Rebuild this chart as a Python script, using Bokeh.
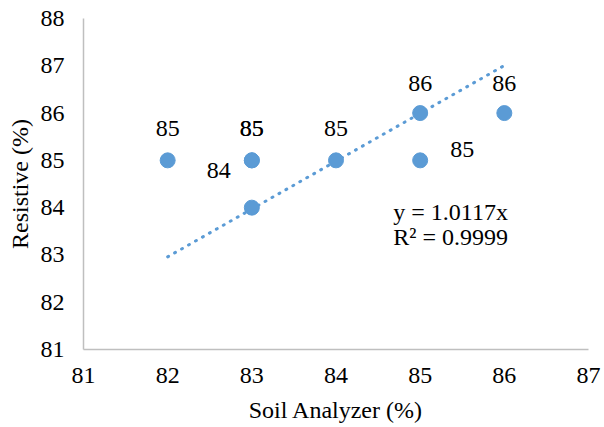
from bokeh.plotting import figure
from bokeh.models import Range1d, Label, FixedTicker
from bokeh.embed import file_html
from bokeh.resources import INLINE

# Data
soil_analyzer = [82, 83, 83, 83, 84, 85, 85, 86]
resistive = [85, 85, 85, 84, 85, 86, 85, 86]
trend_slope = 1.0117
r_squared = 0.9999
x_ticks = [81, 82, 83, 84, 85, 86, 87]
y_ticks = [81, 82, 83, 84, 85, 86, 87, 88]

# label placement offsets (screen px) per point
label_dx = [0, 0, 0, -33, 0, 0, 42, 0]
label_dy = [32, 32, 32, 37, 32, 30, 11, 30]

BLUE = "#5B9BD5"
FONT = "Liberation Serif"
FS = "24px"

p = figure(width=604, height=427, output_backend="svg", toolbar_location=None,
           x_range=Range1d(81, 87), y_range=Range1d(81, 88),
           min_border_left=83, min_border_right=16, min_border_top=18, min_border_bottom=78)
p.outline_line_color = None
p.xgrid.grid_line_color = None
p.ygrid.grid_line_color = None

for ax in (p.xaxis[0], p.yaxis[0]):
    ax.axis_line_color = "#BFBFBF"
    ax.axis_line_width = 1.5
    ax.major_tick_line_color = None
    ax.minor_tick_line_color = None
    ax.major_tick_in = 0
    ax.major_tick_out = 0
    ax.major_label_text_font = FONT
    ax.major_label_text_font_size = FS
    ax.major_label_text_color = "#000000"
    ax.axis_label_text_font = FONT
    ax.axis_label_text_font_size = FS
    ax.axis_label_text_font_style = "normal"
    ax.axis_label_text_color = "#000000"

p.xaxis.ticker = FixedTicker(ticks=x_ticks)
p.yaxis.ticker = FixedTicker(ticks=y_ticks)
p.xaxis.axis_label = "Soil Analyzer (%)"
p.yaxis.axis_label = "Resistive (%)"
p.xaxis.major_label_standoff = 18
p.xaxis.axis_label_standoff = 11
p.yaxis.major_label_standoff = 19
p.yaxis.axis_label_standoff = 5

# trendline
tx = [min(soil_analyzer), max(soil_analyzer)]
ty = [trend_slope * v for v in tx]
p.line(tx, ty, line_color=BLUE, line_width=3, line_dash="1 7", line_cap="round")

# points
p.scatter(soil_analyzer, resistive, size=15, fill_color=BLUE, line_color=BLUE)

# data labels
for xv, yv, dx, dy in zip(soil_analyzer, resistive, label_dx, label_dy):
    p.add_layout(Label(x=xv, y=yv, x_offset=dx, y_offset=dy, text=f"{yv:.0f}",
                       text_align="center", text_baseline="middle",
                       text_font=FONT, text_font_size=FS, text_color="#000000"))

# equation
p.add_layout(Label(x=84.68, y=83.9, text=f"y = {trend_slope}x", text_align="left",
                   text_baseline="middle", text_font=FONT, text_font_size=FS,
                   text_color="#000000"))
p.add_layout(Label(x=84.68, y=83.37, text=f"R² = {r_squared}", text_align="left",
                   text_baseline="middle", text_font=FONT, text_font_size=FS,
                   text_color="#000000"))

open("out.html", "w").write(file_html(p, INLINE))
